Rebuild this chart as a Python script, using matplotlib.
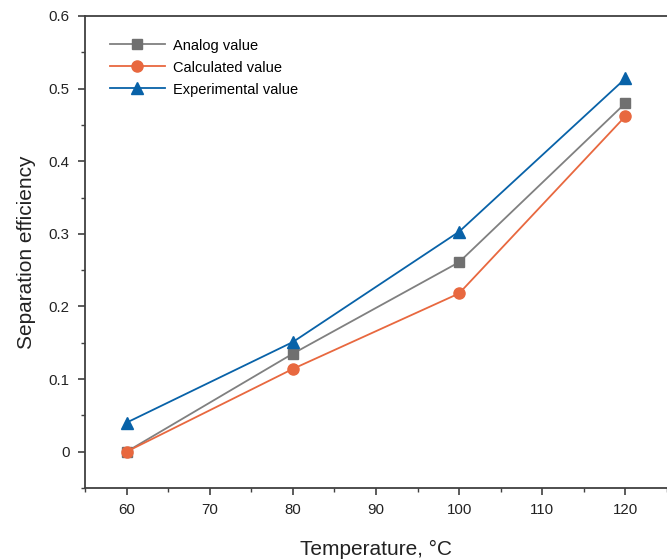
import matplotlib
matplotlib.use('Agg')
import matplotlib.pyplot as plt
from matplotlib.ticker import MultipleLocator

plt.rcParams['font.family'] = ['Liberation Sans', 'DejaVu Sans']

temperature = [60, 80, 100, 120]
analog = [0.0, 0.135, 0.261, 0.480]
calculated = [0.0, 0.114, 0.218, 0.462]
experimental = [0.040, 0.151, 0.303, 0.514]

fig = plt.figure(figsize=(6.67, 5.59), dpi=100)
ax = fig.add_axes([0.1274, 0.127, 0.8726, 0.8444])

ax.plot(temperature, analog, color='#808080', marker='s', markersize=7,
        markerfacecolor='#707070', markeredgecolor='#707070', lw=1.3, label='Analog value')
ax.plot(temperature, calculated, color='#E8683F', marker='o', markersize=8,
        lw=1.3, label='Calculated value')
ax.plot(temperature, experimental, color='#0862A8', marker='^', markersize=9,
        lw=1.3, label='Experimental value')

ax.set_xlim(55, 125)
ax.set_ylim(-0.05, 0.6)
ax.xaxis.set_major_locator(MultipleLocator(10))
ax.xaxis.set_minor_locator(MultipleLocator(5))
ax.yaxis.set_minor_locator(MultipleLocator(0.05))
ax.set_yticks([0, 0.1, 0.2, 0.3, 0.4, 0.5, 0.6])
ax.set_yticklabels(['0', '0.1', '0.2', '0.3', '0.4', '0.5', '0.6'])

ax.spines['right'].set_visible(False)
for s in ['left', 'bottom', 'top']:
    ax.spines[s].set_color('#404040')
    ax.spines[s].set_linewidth(1.3)
ax.tick_params(which='both', direction='out', colors='#404040', labelcolor='#222222',
               labelsize=10.8, top=False, right=False)
ax.tick_params(which='major', length=5, width=1.2, pad=6)
ax.tick_params(which='minor', length=3, width=1.0)

ax.set_xlabel('Temperature, °C', fontsize=15, color='#222222', labelpad=16.5)
ax.set_ylabel('Separation efficiency', fontsize=15, color='#222222', labelpad=9)

ax.legend(loc='upper left', bbox_to_anchor=(0.02, 0.98), frameon=False, fontsize=10.5,
          handlelength=3.8, labelspacing=0.55, handletextpad=0.55)

fig.savefig('out.png', dpi=100)
